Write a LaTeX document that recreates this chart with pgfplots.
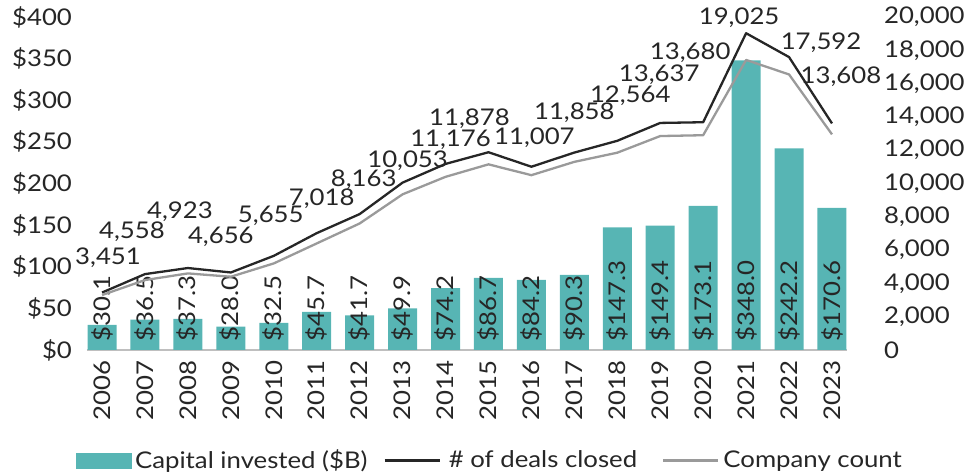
\documentclass[border=0pt]{standalone}
\usepackage{fontspec}
\setmainfont{Lato}[FakeStretch=1.12]
\usepackage{pgfplots}
\usepackage{pgfplotstable}
\pgfplotsset{compat=1.18}
\definecolor{barteal}{HTML}{57B5B4}
\definecolor{dealblk}{HTML}{262626}
\definecolor{cntgray}{HTML}{9A9A9A}
\definecolor{txt}{HTML}{262626}
\definecolor{baseln}{HTML}{BFBFBF}

\pgfplotstableread{
x zero cap caplab deals deallab dx dy count
0 0 30.1 30.1 3451 3,451 3 17.25 3300
1 0 36.5 36.5 4558 4,558 -6.5 21 4200
2 0 37.3 37.3 4923 4,923 -4 28 4600
3 0 28.0 28.0 4656 4,656 -5 18 4400
4 0 32.5 32.5 5655 5,655 -1.5 20 5200
5 0 45.7 45.7 7018 7,018 2.5 17 6400
6 0 41.7 41.7 8163 8,163 2 17 7600
7 0 49.9 49.9 10053 10,053 2.5 11 9350
8 0 74.2 74.2 11176 11,176 2.5 12 10400
9 0 86.7 86.7 11878 11,878 -9.5 17 11150
10 0 84.2 84.2 11007 11,007 1.5 14.5 10500
11 0 90.3 90.3 11858 11,858 0 20 11300
12 0 147.3 147.3 12564 12,564 6.5 22.5 11850
13 0 149.4 149.4 13637 13,637 -0.5 24 12850
14 0 173.1 173.1 13680 13,680 -6.5 34.5 12900
15 0 348.0 348.0 19025 19,025 -3.5 8 17420
16 0 242.2 242.2 17592 17,592 16 7 16550
17 0 170.6 170.6 13608 13,608 4.5 23.5 12950
}\data

\begin{document}
\begin{tikzpicture}[font=\fontsize{11.5}{13}\selectfont]
\begin{axis}[
  name=ax,
  width=380pt, height=166.5pt, scale only axis,
  xmin=-0.35, xmax=17.35, ymin=0, ymax=400,
  axis lines*=left,
  y axis line style={draw=none},
  x axis line style={draw=baseln, line width=0.9pt},
  major tick length=0pt,
  xtick={0,...,17},
  xticklabels={2006,2007,2008,2009,2010,2011,2012,2013,2014,2015,2016,2017,2018,2019,2020,2021,2022,2023},
  xticklabel style={rotate=90, anchor=east, inner sep=0pt, xshift=-5pt},
  ytick={0,50,...,400},
  yticklabels={\$0,\$50,\$100,\$150,\$200,\$250,\$300,\$350,\$400},
  yticklabel style={anchor=east, xshift=-4pt},
  every tick label/.append style={text=txt, font=\fontsize{11.5}{13}\selectfont},
  clip=false,
]
\addplot[ybar, bar width=14.5pt, fill=barteal, draw=none, bar shift=0pt] table[x=x, y=cap] \data;
\addplot[draw=none, mark=none, forget plot,
  nodes near coords={\$\pgfplotspointmeta},
  point meta=explicit symbolic,
  nodes near coords style={rotate=90, anchor=west, inner xsep=4pt, inner ysep=0pt, text=txt, font=\fontsize{11.5}{13}\selectfont}]
  table[x=x, y=zero, meta=caplab] \data;
\end{axis}
\begin{axis}[
  width=380pt, height=166.5pt, scale only axis,
  xmin=-0.35, xmax=17.35, ymin=0, ymax=20000,
  axis y line*=right, axis x line=none,
  y axis line style={draw=none},
  scaled y ticks=false,
  major tick length=0pt,
  ytick={0,2000,...,20000},
  yticklabels={0,{2,000},{4,000},{6,000},{8,000},{10,000},{12,000},{14,000},{16,000},{18,000},{20,000}},
  yticklabel style={anchor=west, xshift=15pt},
  every tick label/.append style={text=txt, font=\fontsize{11.5}{13}\selectfont},
  clip=false,
  legend columns=3,
  legend style={draw=none, fill=none, at={(0.531,-0.332)}, anchor=center,
    font=\fontsize{11.5}{13}\selectfont, text=txt,
    nodes={inner sep=1.5pt},
    /tikz/column 2/.style={column sep=6.5pt},
    /tikz/column 3/.style={column sep=2.5pt},
    /tikz/column 4/.style={column sep=11pt},
    /tikz/column 5/.style={column sep=0.5pt}},
]
\addlegendimage{legend image code/.code={\fill[barteal] (0pt,-3.75pt) rectangle (27.5pt,3.75pt);}}
\addlegendentry{Capital invested (\$B)}
\addplot[dealblk, line width=1.15pt, line join=round, mark=none,
  legend image code/.code={\draw[dealblk, line width=1.15pt] (0pt,0pt) -- (27.5pt,0pt);},
  nodes near coords, point meta=explicit symbolic,
  visualization depends on={\thisrow{dx}\as\labdx},
  visualization depends on={\thisrow{dy}\as\labdy},
  nodes near coords style={anchor=center, xshift=\labdx pt, yshift=\labdy pt, text=txt, inner sep=0pt, font=\fontsize{11.5}{13}\selectfont}]
  table[x=x, y=deals, meta=deallab] \data;
\addlegendentry{\# of deals closed}
\addplot[cntgray, line width=1.15pt, line join=round, mark=none,
  legend image code/.code={\draw[cntgray, line width=1.15pt] (0pt,0pt) -- (27.5pt,0pt);}]
  table[x=x, y=count] \data;
\addlegendentry{Company count}
\end{axis}
\pgfresetboundingbox
\path[use as bounding box] (ax.south west) ++(-43.5pt,-62.5pt) rectangle ++(488.5pt,237.5pt);
\end{tikzpicture}
\end{document}
